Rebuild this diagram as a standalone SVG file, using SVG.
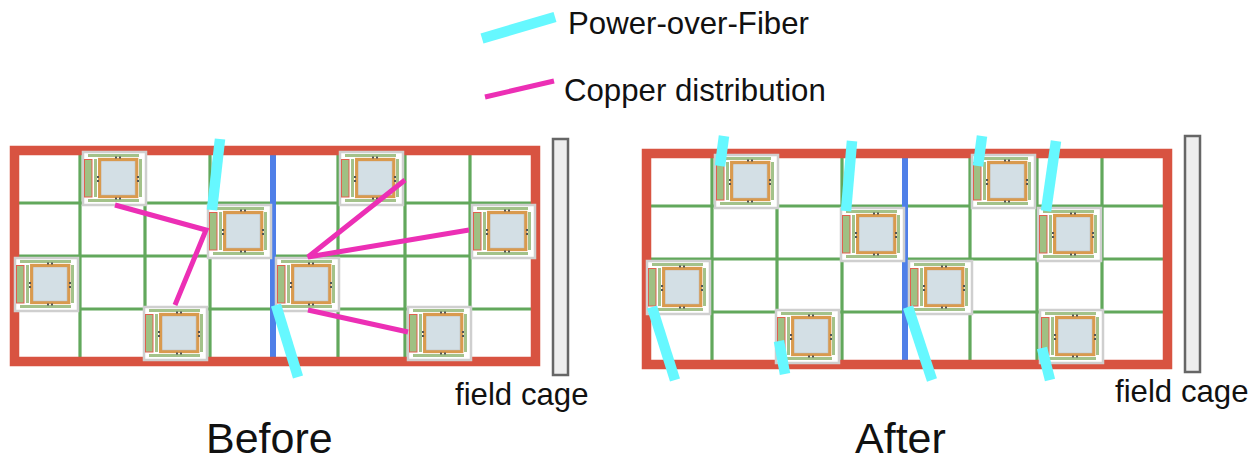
<svg xmlns="http://www.w3.org/2000/svg" width="1258" height="460" viewBox="0 0 1258 460">
<style>
text{font-family:"Liberation Sans",Arial,sans-serif;fill:#111}
.lbl{font-size:31.200px}.big{font-size:43px}
.g{stroke:#62a85c;stroke-width:3.200;fill:none}
.blue{stroke:#4f7fe8;stroke-width:6;fill:none}
.frame{stroke:#d85341;stroke-width:9.500;fill:none}
.cage{fill:#eeeeee;stroke:#666;stroke-width:2.500}
.pof{stroke:#66f8ff;stroke-width:10.500;fill:none}
.cu{stroke:#ec2fb5;stroke-width:5;fill:none}
.mo{fill:#fff;stroke:#cfcfcf;stroke-width:2.500}
.bar{fill:#a3c28a}
.hv{fill:#9fc083;stroke:#e0604f;stroke-width:1}
.or{fill:none;stroke:#d99a4e;stroke-width:3.300}
.core{fill:#d3dfe5;stroke:#bbb;stroke-width:.5}
.dot{fill:#555}
</style>
<defs>
<g id="mod">
<rect class="mo" x="1" y="1" width="63" height="53"/>
<rect class="bar" x="6" y="3" width="51" height="3"/>
<rect class="bar" x="6" y="48" width="51" height="3"/>
<rect class="hv" x="2.500" y="8.500" width="7.500" height="37.500"/>
<rect class="bar" x="12" y="8" width="3" height="38"/>
<rect class="bar" x="57" y="8" width="3" height="38"/>
<rect class="or" x="17.700" y="8.500" width="37" height="37"/>
<rect class="core" x="19.500" y="10.500" width="33.500" height="33.500"/>
<rect class="dot" x="33" y="5.500" width="2" height="2"/><rect class="dot" x="37" y="5.500" width="2" height="2"/>
<rect class="dot" x="33" y="46.500" width="2" height="2"/><rect class="dot" x="37" y="46.500" width="2" height="2"/>
<rect class="dot" x="15" y="25" width="2" height="2"/><rect class="dot" x="15" y="29" width="2" height="2"/>
<rect class="dot" x="55" y="25" width="2" height="2"/><rect class="dot" x="55" y="29" width="2" height="2"/>
</g>
<g id="grid">
<path class="g" d="M80 151V361M145 151V361M210 151V361M338 151V361M405 151V361M470 151V361M15 203H535M15 256H535M15 309H535"/>
<path class="blue" d="M273 151V361"/>
<rect class="frame" x="14.500" y="150.500" width="521" height="211"/>
</g>
</defs>
<g id="grid-before"><use href="#grid"/></g>
<g id="grid-after"><use href="#grid" x="632" y="3"/></g>
<g id="cage-before"><rect class="cage" x="553" y="139" width="15" height="236"/></g>
<g id="cage-after"><rect class="cage" x="1185" y="136" width="15" height="236"/></g>
<g id="m1"><use href="#mod" x="82" y="151"/></g>
<g id="m2"><use href="#mod" x="207" y="204"/></g>
<g id="m3"><use href="#mod" x="14" y="257"/></g>
<g id="m4"><use href="#mod" x="143" y="306"/></g>
<g id="m5"><use href="#mod" x="275" y="257"/></g>
<g id="m6"><use href="#mod" x="339" y="151"/></g>
<g id="m7"><use href="#mod" x="471" y="204"/></g>
<g id="m8"><use href="#mod" x="407" y="306"/></g>
<g id="n1"><use href="#mod" x="714" y="154"/></g>
<g id="n2"><use href="#mod" x="840" y="207"/></g>
<g id="n3"><use href="#mod" x="646" y="260"/></g>
<g id="n4"><use href="#mod" x="775" y="309"/></g>
<g id="n5"><use href="#mod" x="908" y="260"/></g>
<g id="n6"><use href="#mod" x="971" y="154"/></g>
<g id="n7"><use href="#mod" x="1037" y="207"/></g>
<g id="n8"><use href="#mod" x="1039" y="309"/></g>
<g id="connectors">
<path class="pof" d="M482 38.500L555 17"/>
<path class="cu" d="M485 97L554 81"/>
<path class="cu" d="M115 205L206 230L175 305"/>
<path class="cu" d="M405 180L308 257L469 230"/>
<path class="cu" d="M308 310L408 332"/>
<path class="pof" d="M220 139L212 210"/>
<path class="pof" d="M276 305L298 377"/>
<path class="pof" d="M724 136L720 166"/>
<path class="pof" d="M852 141L846 211"/>
<path class="pof" d="M982 136L978 166"/>
<path class="pof" d="M1056 141L1046 211"/>
<path class="pof" d="M652 307L675 380"/>
<path class="pof" d="M779 341L785 374"/>
<path class="pof" d="M908 307L932 380"/>
<path class="pof" d="M1042 348L1050 380"/>
</g>
<g id="labels">
<text class="lbl" x="568" y="34">Power-over-Fiber</text>
<text class="lbl" x="564" y="101">Copper distribution</text>
<text class="lbl" x="455" y="405">field cage</text>
<text class="lbl" x="1115" y="402">field cage</text>
<text class="big" x="206" y="453">Before</text>
<text class="big" x="855" y="453">After</text>
</g>
</svg>
